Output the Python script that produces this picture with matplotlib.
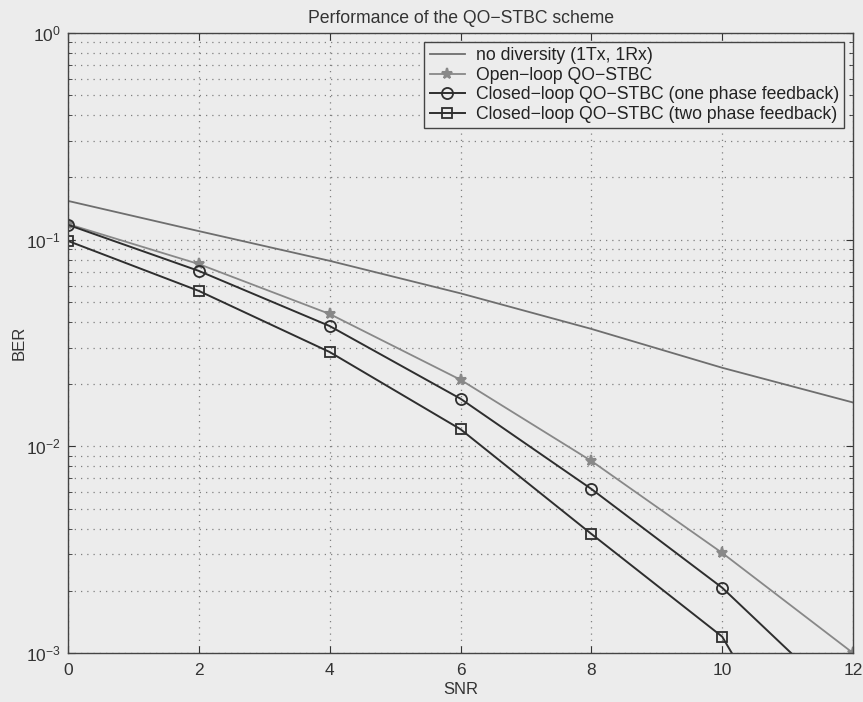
import matplotlib
matplotlib.use("Agg")
import matplotlib.pyplot as plt
import numpy as np

plt.rcParams['font.family'] = ['Liberation Sans', 'DejaVu Sans']
plt.rcParams['mathtext.fontset'] = 'custom'
plt.rcParams['mathtext.rm'] = 'Liberation Sans'

snr = [0, 2, 4, 6, 8, 10, 12]
ber_nodiv = [0.154, 0.110, 0.079, 0.055, 0.037, 0.024, 0.0163]
ber_open = [0.119, 0.0762, 0.0437, 0.0210, 0.0085, 0.00305, 0.001]
ber_one = [0.118, 0.0706, 0.0382, 0.0170, 0.00622, 0.00207, 0.00052]
ber_two = [0.0986, 0.0565, 0.0286, 0.0121, 0.00377, 0.0012, 0.0001]

labels = ['no diversity (1Tx, 1Rx)', 'Open\u2212loop QO\u2212STBC',
          'Closed\u2212loop QO\u2212STBC (one phase feedback)',
          'Closed\u2212loop QO\u2212STBC (two phase feedback)']

bg = '#ececec'
txt = '#333333'
fig = plt.figure(figsize=(8.63, 7.02), dpi=100, facecolor=bg)
ax = fig.add_axes([68/863, 49/702, (853-68)/863, (653-33)/702], facecolor=bg)

ax.semilogy(snr, ber_nodiv, '-', color='#6e6e6e', lw=1.3, label=labels[0])
ax.semilogy(snr, ber_open, '-*', color='#888888', lw=1.3, ms=8, mew=1.5, label=labels[1])
ax.semilogy(snr, ber_one, '-o', color='#2e2e2e', lw=1.4, ms=8, mfc='none', mew=1.3, label=labels[2])
ax.semilogy(snr, ber_two, '-s', color='#2e2e2e', lw=1.4, ms=7, mfc='none', mew=1.3, label=labels[3])

ax.set_xlim(0, 12)
ax.set_ylim(1e-3, 1)
ax.set_xticks([0, 2, 4, 6, 8, 10, 12])
gstyle = dict(linestyle=(0, (1, 4)), color='#808080', lw=0.9)
ax.grid(True, which='major', **gstyle)
ax.grid(True, which='minor', axis='y', **gstyle)
ax.tick_params(which='both', direction='in', top=True, right=True, labelsize=12.5, colors=txt)
ax.tick_params(which='major', length=5)
ax.tick_params(which='minor', length=3)
ax.tick_params(axis='x', pad=7)
ax.tick_params(axis='y', pad=5)
for s in ax.spines.values():
    s.set_color('#444444')
    s.set_linewidth(1.0)

ax.set_xlabel('SNR', fontsize=12, color=txt, labelpad=3)
ax.set_ylabel('BER', fontsize=12, color=txt, labelpad=0)
ax.set_title('Performance of the QO\u2212STBC scheme', fontsize=12.7, color=txt, pad=7)

leg = ax.legend(loc='upper right', fontsize=12.7, fancybox=False, framealpha=1,
                facecolor=bg, edgecolor='#444444', handlelength=2.0,
                borderaxespad=0.5, labelspacing=0.15, borderpad=0.3, handletextpad=0.6)
leg.get_frame().set_linewidth(1.0)
for t in leg.get_texts():
    t.set_color('#222222')

fig.savefig('out.png', dpi=100, facecolor=bg)
